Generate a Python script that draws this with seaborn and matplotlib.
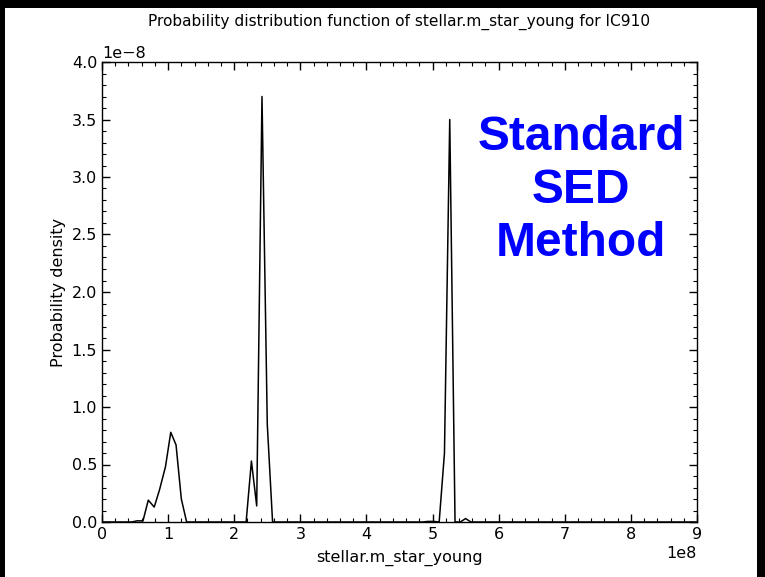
import numpy as np
import pandas as pd
import seaborn as sns
import matplotlib
matplotlib.use("Agg")
import matplotlib.pyplot as plt
from matplotlib.patches import Rectangle
from matplotlib.ticker import MultipleLocator

# ---- data (x in units of 1e8, y in units of 1e-8) ----
mass_1e8 = [0.0, 0.45, 0.53, 0.62, 0.70, 0.79, 0.87, 0.96, 1.04, 1.12, 1.20, 1.28, 1.37,
            2.10, 2.18, 2.26, 2.34, 2.42, 2.50, 2.58, 2.66,
            4.85, 4.93, 5.02, 5.10, 5.18, 5.26, 5.34, 5.42, 5.50, 5.58, 5.66, 9.0]
density_1em8 = [0.0, 0.0, 0.01, 0.01, 0.19, 0.13, 0.28, 0.48, 0.78, 0.67, 0.20, 0.0, 0.0,
                0.0, 0.0, 0.53, 0.14, 3.70, 0.85, 0.0, 0.0,
                0.0, 0.005, 0.005, 0.0, 0.60, 3.50, 0.0, 0.0, 0.03, 0.0, 0.0, 0.0]

title = "Probability distribution function of stellar.m_star_young for IC910"
xlabel = "stellar.m_star_young"
ylabel = "Probability density"
overlay_lines = ["Standard", "SED", "Method"]

df = pd.DataFrame({"x": np.array(mass_1e8) * 1e8, "y": np.array(density_1em8) * 1e-8})

sns.set_style("ticks")
plt.rcParams["font.family"] = ["DejaVu Sans"]
plt.rcParams["text.color"] = "black"
plt.rcParams["axes.labelcolor"] = "black"
plt.rcParams["xtick.color"] = "black"
plt.rcParams["ytick.color"] = "black"

W, H = 765, 577
fig = plt.figure(figsize=(W / 100, H / 100), dpi=100, facecolor="black")
# white page area
page = Rectangle((5 / W, 0), (757 - 5) / W, (577 - 8) / H,
                 transform=fig.transFigure, facecolor="white",
                 edgecolor="none", zorder=-10)
fig.add_artist(page)

ax = fig.add_axes([102 / W, 1 - 522 / H, (697 - 102) / W, (522 - 62) / H])
ax.set_zorder(5)
sns.lineplot(data=df, x="x", y="y", ax=ax, color="black", linewidth=1.1, sort=False)

ax.set_xlim(0, 9e8)
ax.set_ylim(0, 4e-8)
ax.xaxis.set_major_locator(MultipleLocator(1e8))
ax.xaxis.set_minor_locator(MultipleLocator(0.2e8))
ax.yaxis.set_major_locator(MultipleLocator(0.5e-8))
ax.yaxis.set_minor_locator(MultipleLocator(0.1e-8))
ax.tick_params(which="both", direction="in", top=True, right=True, colors="black",
               labelsize=11.5)
ax.tick_params(which="major", length=6, width=1)
ax.tick_params(which="minor", length=3, width=0.8)
for s in ax.spines.values():
    s.set_visible(True)
    s.set_color("black")
    s.set_linewidth(1.0)
ax.xaxis.get_offset_text().set_fontsize(11.5)
ax.yaxis.get_offset_text().set_fontsize(11.5)

ax.set_title(title, fontsize=11.1, pad=26, color="black")
ax.set_xlabel(xlabel, fontsize=11.5, labelpad=6)
ax.set_ylabel(ylabel, fontsize=11.5, labelpad=4)

ax.text(7.245e8, 2.88e-8, "\n".join(overlay_lines), color="blue", fontsize=34.5,
        fontweight="bold", family=["Liberation Sans", "DejaVu Sans"],
        ha="center", va="center", linespacing=1.23)

fig.savefig("out.png", dpi=100, facecolor=fig.get_facecolor())
